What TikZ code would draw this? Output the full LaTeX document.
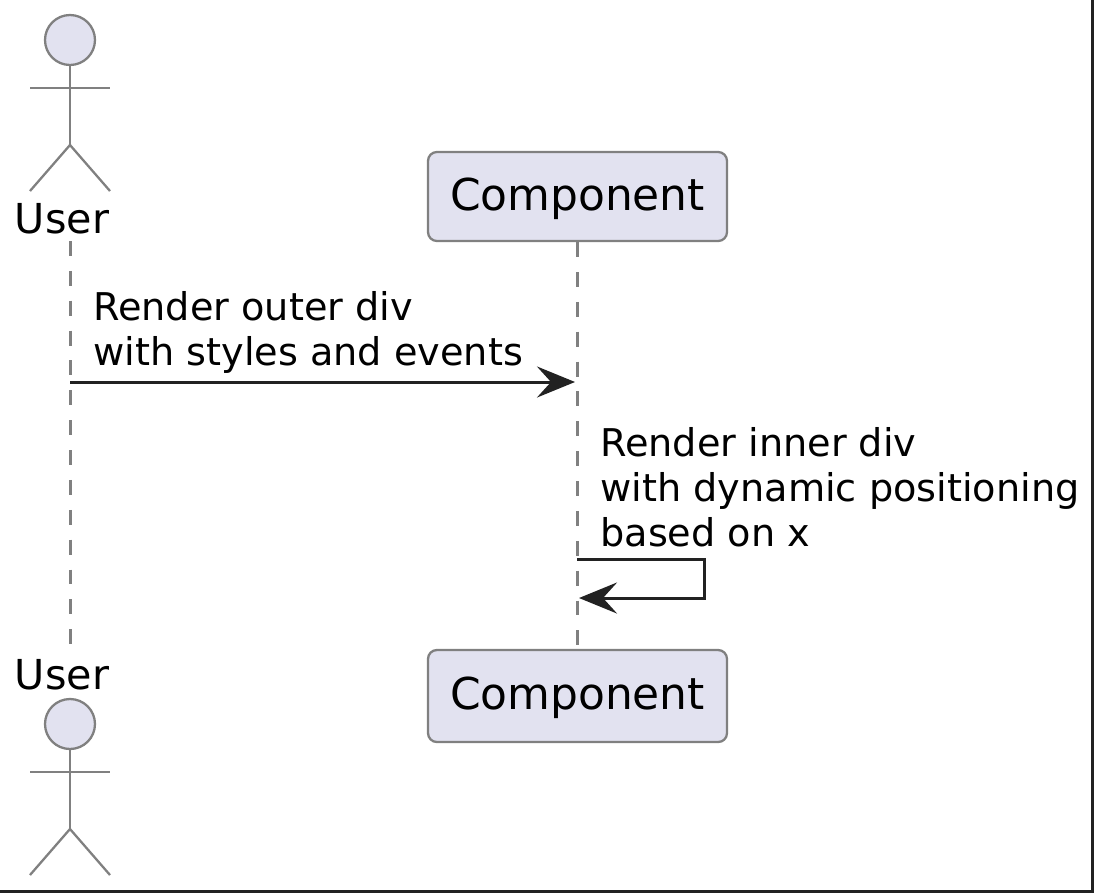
\documentclass[tikz,border=0pt]{standalone}
\usepackage{fontspec}
\setmainfont{DejaVu Sans}
\usetikzlibrary{arrows.meta,positioning}
\definecolor{partfill}{HTML}{E2E2F0}
\definecolor{partline}{HTML}{808080}
\definecolor{msgline}{HTML}{222222}
\tikzset{
  lifeline/.style={draw=partline, line width=1.2pt, dash pattern=on 8.5pt off 8.5pt},
  message/.style={draw=msgline, line width=1.7pt, -{Stealth[length=0.76cm, width=0.62cm, inset=0.28cm]}},
  participant/.style={draw=partline, fill=partfill, line width=1.3pt, rounded corners=5pt,
    minimum width=5.98cm, inner sep=0pt, text height=21.7pt, text depth=5.9pt, font=\fontsize{25}{25}\selectfont},
  actorpart/.style={draw=partline, line width=1.3pt},
  actorhead/.style={circle, draw=partline, fill=partfill, line width=1.3pt, minimum size=1cm, inner sep=0pt},
  actorname/.style={font=\fontsize{23.5}{25}\selectfont, anchor=base, inner sep=0pt},
  note/.style={font=\fontsize{21.75}{25.6}\selectfont, align=left, anchor=base west, inner sep=0pt}
}
\begin{document}
\begin{tikzpicture}[x=0.02cm,y=-0.02cm]
  \useasboundingbox (0,0) rectangle (1094,893);
  \fill[white] (0,0) rectangle (1094,893);

  % lifelines
  \coordinate (userStart) at (70.5,241);
  \coordinate (userEnd) at (70.5,650);
  \node[participant, minimum height=1.78cm] (compTop) at (577.5,196.5) {Component};
  \node[participant, minimum height=1.84cm] (compBottom) at (577.5,696) {Component};
  \draw[lifeline] (userStart) -- (userEnd);
  \draw[lifeline] (compTop) -- (compBottom);

  % actor on top
  \node[actorhead] (headTop) at (70,40) {};
  \coordinate (hipTop) at (70,145);
  \draw[actorpart] (headTop) -- (hipTop);
  \draw[actorpart] (30,88) -- (110,88);
  \draw[actorpart] (30,191) -- (hipTop) -- (110,191);
  \node[actorname] (userTop) at (62,233) {User};

  % actor below
  \node[actorname] (userBottom) at (62,689) {User};
  \node[actorhead] (headBottom) at (70,724) {};
  \coordinate (hipBottom) at (70,829);
  \draw[actorpart] (headBottom) -- (hipBottom);
  \draw[actorpart] (30,772) -- (110,772);
  \draw[actorpart] (30,875) -- (hipBottom) -- (110,875);

  % messages
  \coordinate (outerFrom) at (70,382);
  \coordinate (outerTo) at (575,382);
  \draw[message] (outerFrom) -- (outerTo);
  \node[note] (outerText) at (93,365) {Render outer div\\with styles and events};

  \coordinate (innerFrom) at (577,559);
  \coordinate (innerTo) at (579,598);
  \draw[message] (innerFrom) -- (704,559) -- (704,598) -- (innerTo);
  \node[note] (innerText) at (600,546) {Render inner div\\with dynamic positioning\\based on x};

  % frame, right and bottom only
  \draw[msgline, line width=1.4pt] (1092.5,0) -- (1092.5,891.5) -- (0,891.5);
\end{tikzpicture}
\end{document}
